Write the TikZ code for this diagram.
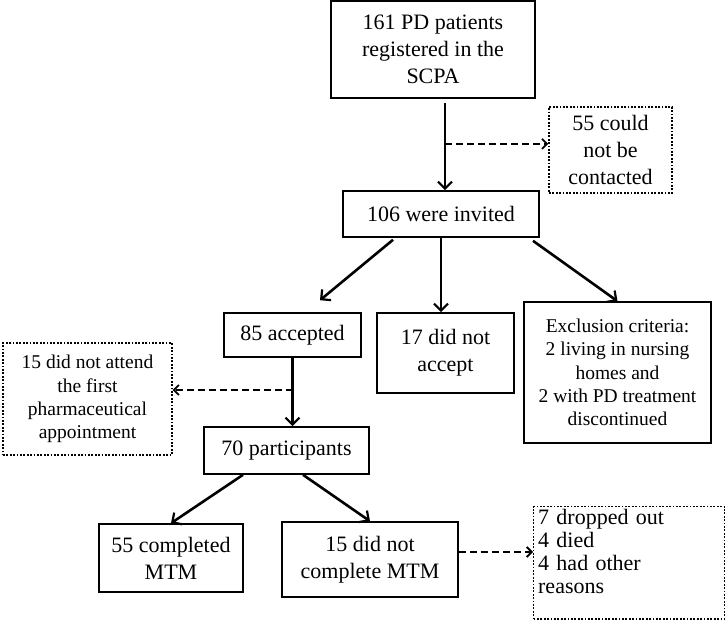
\documentclass[tikz,border=0pt]{standalone}
\usepackage{fontspec}
\setmainfont{Liberation Serif}
\usetikzlibrary{arrows.meta}

\begin{document}
\begin{tikzpicture}[x=1pt,y=-1pt,
	box/.style={draw,line width=1.6pt,align=center,inner sep=0pt,font=\fontsize{22}{27}\selectfont},
	dotbox/.style={box,line width=1.3pt,dash pattern=on 1.8pt off 1.6pt},
	small/.style={font=\fontsize{19.5}{23.3}\selectfont},
	arr/.style={line width=2.6pt,-{Straight Barb[length=7pt,width=14pt,line width=2.2pt]}},
	dasharr/.style={line width=2.2pt,dash pattern=on 7pt off 4pt,-{Straight Barb[length=5pt,width=10pt,line width=1.8pt]}}]
	\useasboundingbox (0,0) rectangle (727,623);
	% boxes
	\node[box,minimum width=204pt,minimum height=97pt] (top) at (433,49.5) {161 PD patients\\registered in the\\SCPA};
	\node[dotbox,minimum width=123pt,minimum height=86pt] (contact) at (610.5,150) {55 could\\not be\\contacted};
	\node[box,minimum width=196pt,minimum height=46pt] (invited) at (441,214) {106 were invited};
	\node[box,minimum width=137pt,minimum height=44pt] (accepted) at (292.5,335) {85 accepted};
	\node[box,minimum width=137pt,minimum height=80pt] (noaccept) at (445.5,353) {17 did not\\accept};
	\node[box,small,minimum width=187pt,minimum height=141pt] (exclusion) at (617.5,372.5) {Exclusion criteria:\\2 living in nursing\\homes and\\2 with PD treatment\\discontinued};
	\node[dotbox,small,minimum width=169pt,minimum height=112pt] (attend) at (87.5,399) {15 did not attend\\the first\\pharmaceutical\\appointment};
	\node[box,minimum width=165pt,minimum height=47pt] (participants) at (286.5,450.5) {70 participants};
	\node[box,minimum width=144pt,minimum height=68pt] (completed) at (171,558) {55 completed\\MTM};
	\node[box,minimum width=176pt,minimum height=75pt] (notcompleted) at (370,559.5) {15 did not\\complete MTM};
	\node[dotbox,align=left,anchor=north west,text width=182pt,inner xsep=4.5pt,inner ysep=3pt,text depth=91pt,font=\fontsize{22}{23}\selectfont] (reasons) at (533,506) {7 dropped out\\4 died\\4 had other\\reasons};
	% arrows
	\draw[arr] ([xshift=12pt,yshift=-4pt]top.south) -- coordinate[pos=0.47] (split1) ([xshift=12pt]top.south |- invited.north);
	\draw[dasharr] (split1) -- (split1 -| contact.west);
	\draw[arr] ([xshift=-48pt,yshift=-2pt]invited.south) -- ([xshift=27.5pt,yshift=12pt]accepted.north);
	\draw[arr] (invited.south) -- (invited.south |- noaccept.north);
	\draw[arr] ([xshift=92pt,yshift=-3pt]invited.south) -- (exclusion.north);
	\draw[arr] (accepted.south) -- coordinate[pos=0.47] (split2) (accepted.south |- participants.north);
	\draw[dasharr] (split2) -- (split2 -| attend.east);
	\draw[arr] ([xshift=-43.5pt]participants.south) -- (completed.north);
	\draw[arr] ([xshift=16.5pt]participants.south) -- (notcompleted.north);
	\draw[dasharr] ([yshift=7.5pt]notcompleted.east) -- ([yshift=7.5pt]notcompleted.east -| reasons.west);
\end{tikzpicture}
\end{document}
